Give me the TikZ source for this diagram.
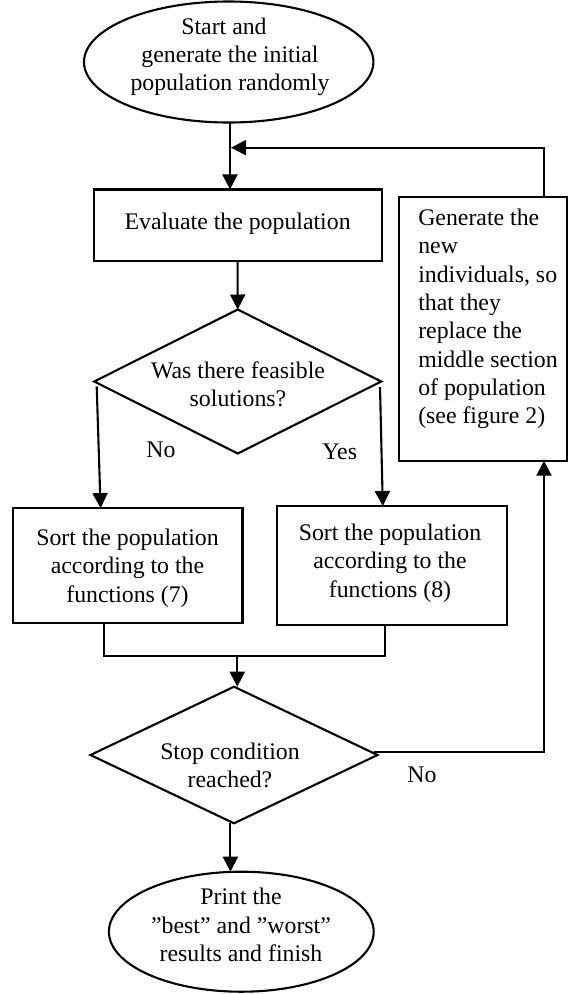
\documentclass[tikz,border=0pt]{standalone}
\usepackage{fontspec}
\setmainfont{Liberation Serif}
\usetikzlibrary{shapes.geometric,arrows.meta}
\begin{document}
\begin{tikzpicture}[x=1pt,y=-1pt, line width=2.1pt,
  every node/.style={font=\fontsize{23.8pt}{28.3pt}\selectfont, inner sep=0pt, outer sep=0pt},
  box/.style={draw, rectangle},
  oval/.style={draw, ellipse},
  decision/.style={draw, diamond},
  txt/.style={align=center},
  arr/.style={-{Triangle[length=15pt,width=15pt]}}]
\path[use as bounding box, fill=white] (0,0) rectangle (569,994);

% shapes
\node[oval, minimum width=289.4pt, minimum height=121pt] (e1) at (228.7,62) {};
\node[box, minimum width=288pt, minimum height=71.5pt] (ev) at (237.6,225.2) {};
\node[box, minimum width=167.4pt, minimum height=264pt] (gen) at (483,328.7) {};
\node[decision, minimum width=287pt, minimum height=144pt] (d1) at (237.7,381.5) {};
\node[box, minimum width=229.8pt, minimum height=115.3pt] (s1) at (127.6,565.7) {};
\node[box, minimum width=230.4pt, minimum height=118.5pt] (s2) at (391.8,565.3) {};
\node[decision, minimum width=287pt, minimum height=136.6pt] (d2) at (234,755) {};
\node[oval, minimum width=264.8pt, minimum height=120pt] (e2) at (241.3,931.7) {};

% texts
\node[txt] (te1) at (230,57) {Start and\makebox[12pt]{}\\generate the initial\\population randomly};
\node[txt] (tev) at (237.6,224) {Evaluate the population};
\node[align=left, anchor=west] (tgen) at (418.3,319) {Generate the\\new\\individuals, so\\that they\\replace the\\middle section\\of population\\(see figure 2)};
\node[txt] (td1) at (238,384) {Was there feasible\\solutions?};
\node[txt] (ts1) at (127.5,568) {Sort the population\\according to the\\functions (7)};
\node[txt] (ts2) at (390,563) {Sort the population\\according to the\\functions (8)};
\node[txt] (td2) at (230,765.5) {Stop condition\\reached?};
\node[txt] (te2) at (241,925) {Print the\\”best” and ”worst”\\results and finish};
\node (lno1) at (161,450) {No};
\node (lyes) at (339.7,452) {Yes};
\node (lno2) at (422,775) {No};

% connectors
\coordinate (fb) at (231,147.7);
\coordinate (mg) at (237.3,656);
\draw[arr] ([xshift=1.3pt]e1.south) -- ([xshift=1.3pt]e1.south |- ev.north);
\draw[arr] ([xshift=61pt]gen.north) |- (fb);
\draw[arr] (ev.south) -- (d1.north);
\draw[arr] ([shift={(2.5pt,-5pt)}]d1.west) -- ([xshift=-27pt]s1.north);
\draw[arr] ([shift={(-1.2pt,-5.5pt)}]d1.east) -- ([xshift=-9pt]s2.north);
\draw ([xshift=-23.6pt]s1.south) |- (mg) -| ([xshift=-6.5pt]s2.south);
\draw[arr] (mg) -- (mg |- d2.north);
\draw[arr] ([shift={(-4pt,3pt)}]d2.east) -| ([xshift=61pt]gen.south);
\draw[arr] ([xshift=-3.6pt]d2.south) -- ([xshift=-3.6pt]d2.south |- e2.north);
\end{tikzpicture}
\end{document}
